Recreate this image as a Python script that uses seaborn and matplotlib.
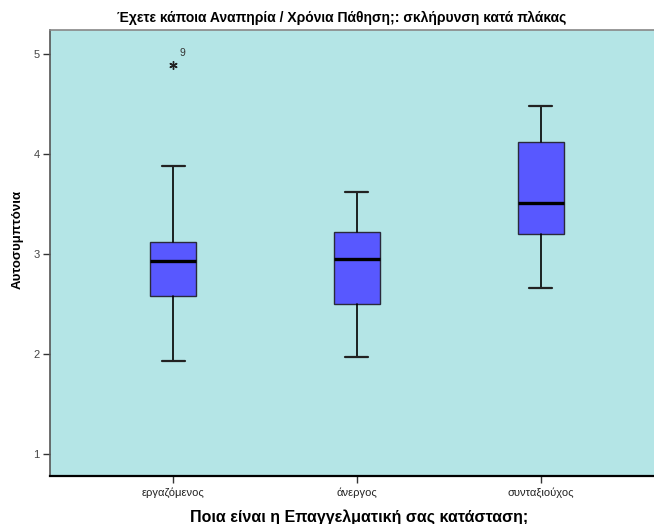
import matplotlib
matplotlib.use("Agg")
import matplotlib.pyplot as plt
import seaborn as sns

# Employment status groups and five-number summaries of the score
categories = ["εργαζόμενος", "άνεργος", "συνταξιούχος"]
whisker_low = [1.93, 1.97, 2.66]
q1 = [2.58, 2.50, 3.20]
median = [2.93, 2.95, 3.51]
q3 = [3.12, 3.22, 4.12]
whisker_high = [3.88, 3.62, 4.48]
# Extreme values per group: (value, case number)
extremes = [[(4.89, "9")], [], []]

yticks = [1, 2, 3, 4, 5]
title = "Έχετε κάποια Αναπηρία / Χρόνια Πάθηση;: σκλήρυνση κατά πλάκας"
xlabel = "Ποια είναι η Επαγγελματική σας κατάσταση;"
ylabel = "Αυτοσυμπτόνια"

sns.set_style("white")
plt.rcParams["font.family"] = ["Liberation Sans", "DejaVu Sans"]

fig = plt.figure(figsize=(6.54, 5.24), dpi=100)
ax = fig.add_axes([0.0772, 0.0916, 0.9373, 0.8511])
ax.set_facecolor("#B4E5E6")

stats = []
for i, name in enumerate(categories):
    stats.append({
        "label": name,
        "whislo": whisker_low[i],
        "q1": q1[i],
        "med": median[i],
        "q3": q3[i],
        "whishi": whisker_high[i],
        "fliers": [],
    })

ax.bxp(
    stats,
    positions=range(len(categories)),
    widths=0.25,
    patch_artist=True,
    showfliers=False,
    boxprops=dict(facecolor="#5858FF", edgecolor="#2a2a3a", linewidth=1.0),
    medianprops=dict(color="black", linewidth=2.4),
    whiskerprops=dict(color="black", linewidth=1.2),
    capprops=dict(color="#222222", linewidth=1.6),
    capwidths=0.125,
)

# Extreme cases drawn as asterisks with their case numbers
for i, pts in enumerate(extremes):
    for val, case in pts:
        ax.plot(i, val, marker=(6, 2, 0), color="#222222", markersize=6,
                markeredgewidth=1.0, linestyle="none", zorder=5)
        ax.annotate(case, (i, val), xytext=(5, 5), textcoords="offset points",
                    fontsize=7.5, color="#333333", ha="left", va="bottom")

ax.set_xlim(-0.666, 2.666)
ax.set_ylim(0.78, 5.24)
ax.set_yticks(yticks)
ax.set_yticklabels([str(t) for t in yticks], fontsize=8, color="#444444")
ax.set_xticks(range(len(categories)))
ax.set_xticklabels(categories, fontsize=8, color="#222222")
ax.tick_params(axis="both", direction="out", length=5, width=1,
               color="#333333", pad=3, left=True, bottom=True)

ax.spines["right"].set_visible(False)
ax.spines["top"].set_color("#888888")
ax.spines["top"].set_linewidth(1.2)
ax.spines["left"].set_color("#555555")
ax.spines["left"].set_linewidth(1.2)
ax.spines["bottom"].set_color("black")
ax.spines["bottom"].set_linewidth(1.6)

fig.text(342 / 654, 1 - 18 / 524, title, ha="center", va="center",
         fontsize=10, fontweight="bold", color="black")
fig.text(359 / 654, 1 - 517 / 524, xlabel, ha="center", va="center",
         fontsize=11.5, fontweight="bold", color="black")
fig.text(18 / 654, 1 - 239 / 524, ylabel, ha="center", va="center",
         rotation=90, fontsize=9.5, fontweight="bold", color="black")

fig.savefig("out.png", dpi=100)
